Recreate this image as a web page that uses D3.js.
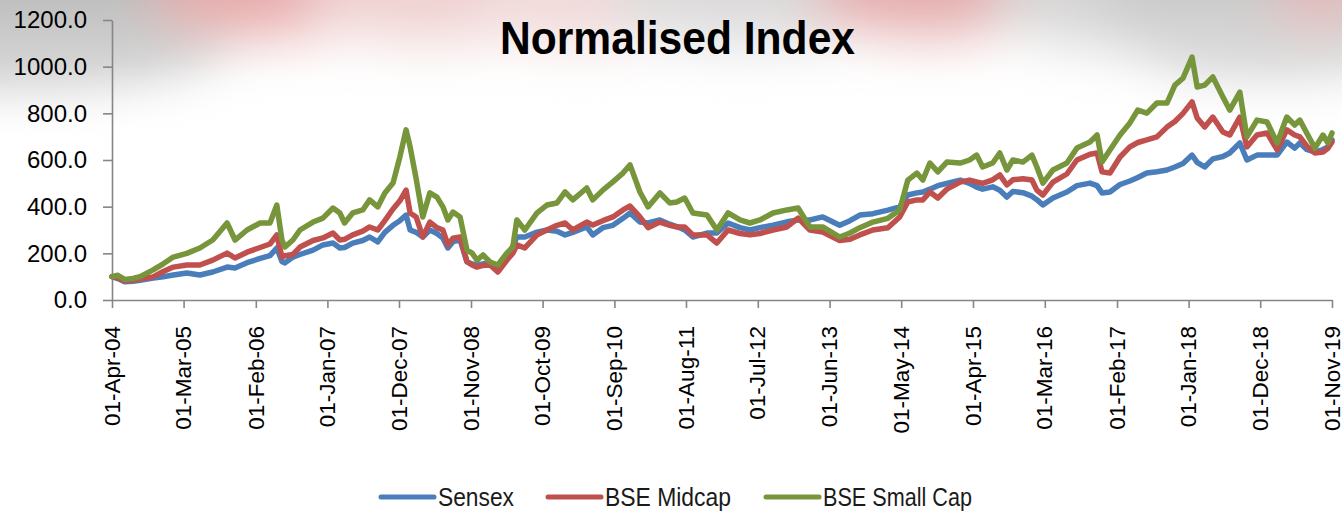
<!DOCTYPE html>
<html>
<head>
<meta charset="utf-8">
<script src="https://cdn.jsdelivr.net/npm/d3@7"></script>
<style>
  html, body { margin: 0; padding: 0; background: #fff; }
  svg { display: block; }
  .axis path, .axis line { stroke: #868686; stroke-width: 1.6px; }
  .y-axis text { font-family: "Liberation Sans", Arial, sans-serif; font-size: 24px; fill: #000; }
  .x-axis text { font-family: "Liberation Sans", Arial, sans-serif; font-size: 22.5px; fill: #000; }
  .title { font-family: "Liberation Sans", Arial, sans-serif; font-weight: bold; font-size: 46px; }
  .legend text { font-family: "Liberation Sans", Arial, sans-serif; font-size: 26px; fill: #1a1a1a; }
</style>
</head>
<body>
<svg width="1342" height="512"></svg>
<script>
// values (normalised, 01-Apr-04 = 100)
const dates = [
  "2004-04-01","2004-04-28","2004-05-30","2004-07-08","2004-08-10","2004-10-10","2004-11-26","2005-01-12",
  "2005-03-16","2005-05-16","2005-07-15","2005-09-20","2005-10-27","2005-12-22","2006-02-21","2006-04-08",
  "2006-05-10","2006-06-03","2006-06-17","2006-07-24","2006-08-26","2006-10-26","2006-12-11","2007-01-27",
  "2007-02-28","2007-03-22","2007-04-29","2007-06-15","2007-07-17","2007-08-24","2007-09-26","2007-11-03",
  "2007-12-05","2008-01-03","2008-01-22","2008-02-19","2008-03-21","2008-04-23","2008-05-26","2008-06-23",
  "2008-07-16","2008-08-09","2008-09-11","2008-10-13","2008-11-06","2008-11-29","2008-12-27","2009-01-29",
  "2009-03-06","2009-04-17","2009-05-15","2009-06-03","2009-07-10","2009-09-05","2009-10-21","2009-12-07",
  "2010-01-14","2010-02-19","2010-04-25","2010-05-23","2010-07-09","2010-08-25","2010-10-11","2010-11-13",
  "2010-12-29","2011-02-05","2011-04-01","2011-05-17","2011-06-19","2011-07-26","2011-09-02","2011-11-07",
  "2011-12-23","2012-02-13","2012-04-09","2012-05-25","2012-07-11","2012-09-10","2012-11-14","2013-01-05",
  "2013-03-01","2013-04-30","2013-07-18","2013-09-04","2013-10-20","2013-12-20","2014-02-28","2014-04-24",
  "2014-06-01","2014-07-13","2014-08-10","2014-09-12","2014-10-19","2014-11-30","2015-01-31","2015-03-16",
  "2015-04-18","2015-05-16","2015-07-02","2015-08-04","2015-09-06","2015-10-04","2015-11-20","2016-01-01",
  "2016-01-24","2016-02-21","2016-04-08","2016-06-12","2016-07-29","2016-09-28","2016-10-31","2016-11-23",
  "2016-12-30","2017-02-15","2017-04-02","2017-05-09","2017-06-20","2017-08-06","2017-09-22","2017-10-29",
  "2017-12-06","2018-01-17","2018-02-10","2018-03-17","2018-04-24","2018-06-10","2018-07-12","2018-08-28",
  "2018-09-30","2018-11-16","2019-01-02","2019-02-18","2019-04-04","2019-05-11","2019-06-04","2019-07-06",
  "2019-08-13","2019-09-20","2019-10-13","2019-11-01"
];

const sensex = [
  100, 92, 78, 80, 85, 94, 100, 107, 116, 107, 120, 141, 137, 160, 178, 190,
  223, 165, 159, 184, 195, 214, 236, 244, 223, 225, 244, 255, 270, 249, 290, 320,
  340, 364, 300, 290, 270, 300, 285, 265, 223, 250, 257, 163, 155, 150, 155, 159,
  141, 185, 230, 270, 270, 291, 300, 295, 279, 290, 313, 279, 310, 320, 350, 373,
  334, 330, 343, 325, 315, 300, 270, 287, 287, 330, 310, 300, 310, 321, 335, 343,
  343, 356, 320, 340, 364, 370, 385, 399, 450, 459, 463, 475, 490, 500, 514, 500,
  484, 475, 485, 470, 441, 465, 460, 445, 430, 407, 437, 463, 490, 501, 490, 459,
  463, 495, 510, 525, 544, 550, 557, 570, 585, 621, 590, 570, 605, 615, 630, 673,
  600, 621, 621, 621, 677, 651, 673, 645, 634, 645, 656, 686
];

const midcap = [
  100, 95, 82, 85, 90, 99, 122, 141, 150, 150, 171, 201, 180, 205, 225, 240,
  279, 184, 190, 195, 227, 255, 266, 287, 257, 260, 279, 295, 313, 300, 340, 390,
  425, 471, 373, 356, 270, 334, 310, 300, 236, 265, 270, 165, 150, 141, 148, 150,
  120, 170, 200, 236, 223, 279, 300, 320, 330, 300, 334, 321, 340, 356, 386, 403,
  356, 310, 334, 320, 313, 313, 279, 279, 244, 300, 285, 279, 285, 300, 313, 351,
  300, 291, 255, 260, 279, 300, 310, 356, 420, 429, 429, 463, 437, 475, 505, 514,
  506, 500, 515, 536, 493, 515, 520, 514, 471, 450, 505, 540, 600, 625, 630, 549,
  544, 613, 656, 675, 686, 699, 741, 765, 800, 849, 780, 741, 784, 720, 707, 784,
  656, 707, 716, 643, 729, 707, 699, 660, 630, 634, 650, 677
];

const smallcap = [
  100, 106, 88, 92, 100, 129, 155, 184, 200, 223, 257, 330, 257, 300, 330, 330,
  407, 257, 227, 257, 300, 334, 351, 394, 373, 330, 373, 386, 429, 399, 459, 501,
  613, 729, 656, 520, 356, 459, 441, 399, 343, 377, 356, 214, 201, 171, 193, 163,
  150, 201, 227, 343, 300, 373, 407, 416, 463, 429, 480, 429, 471, 506, 544, 579,
  463, 399, 459, 416, 420, 437, 373, 364, 300, 373, 343, 330, 343, 373, 386, 394,
  313, 313, 270, 287, 310, 334, 350, 386, 514, 544, 514, 587, 549, 591, 587, 600,
  621, 570, 587, 630, 557, 600, 591, 621, 570, 501, 557, 587, 651, 677, 707, 591,
  643, 707, 759, 814, 801, 844, 844, 921, 951, 1041, 913, 921, 956, 870, 814, 891,
  699, 771, 763, 673, 784, 750, 771, 716, 651, 707, 673, 716
];

const seriesNames = ["Sensex", "BSE Midcap", "BSE Small Cap"];
const seriesColors = ["#4a7ebb", "#c0504d", "#77953b"];
const xTickLabels = [
  "01-Apr-04","01-Mar-05","01-Feb-06","01-Jan-07","01-Dec-07","01-Nov-08","01-Oct-09","01-Sep-10","01-Aug-11",
  "01-Jul-12","01-Jun-13","01-May-14","01-Apr-15","01-Mar-16","01-Feb-17","01-Jan-18","01-Dec-18","01-Nov-19"
];
const yTicks = [0, 200, 400, 600, 800, 1000, 1200];

const svg = d3.select("svg");
const width = 1342;
const height = 512;
const margin = { top: 20, right: 10, bottom: 212, left: 112 };

const parseDate = d3.timeParse("%Y-%m-%d");
const parseTick = d3.timeParse("%d-%b-%y");
const fmtTick = d3.timeFormat("%d-%b-%y");

// faint photo-like background at the top
const defs = svg.append("defs");
defs.append("filter").attr("id", "blur").attr("x", "-50%").attr("y", "-50%")
  .attr("width", "200%").attr("height", "200%")
  .append("feGaussianBlur").attr("stdDeviation", 26);
const fade = defs.append("linearGradient").attr("id", "fade")
  .attr("x1", 0).attr("y1", 0).attr("x2", 0).attr("y2", 1);
fade.append("stop").attr("offset", "0%").attr("stop-color", "#fff").attr("stop-opacity", 0.2);
fade.append("stop").attr("offset", "25%").attr("stop-color", "#fff").attr("stop-opacity", 0.45);
fade.append("stop").attr("offset", "55%").attr("stop-color", "#fff").attr("stop-opacity", 1);
fade.append("stop").attr("offset", "100%").attr("stop-color", "#fff").attr("stop-opacity", 1);

svg.append("rect").attr("width", width).attr("height", height).attr("fill", "#fff");
const bg = svg.append("g").attr("filter", "url(#blur)");
const blobs = [
  { cx: 0, cy: 0, rx: 260, ry: 115, c: "#b0b0b0" },
  { cx: 270, cy: -5, rx: 120, ry: 50, c: "#e39a9a" },
  { cx: 430, cy: 0, rx: 130, ry: 50, c: "#ecc6c6" },
  { cx: 580, cy: 5, rx: 110, ry: 50, c: "#eed0d0" },
  { cx: 750, cy: 0, rx: 140, ry: 55, c: "#d4d2d2" },
  { cx: 930, cy: -5, rx: 120, ry: 50, c: "#e09c9c" },
  { cx: 1110, cy: 0, rx: 120, ry: 55, c: "#cdcbcb" },
  { cx: 1270, cy: 10, rx: 170, ry: 85, c: "#c0c0c0" },
  { cx: 1320, cy: 0, rx: 50, ry: 30, c: "#e0a8a8" }
];
bg.selectAll("ellipse").data(blobs).enter().append("ellipse")
  .attr("cx", d => d.cx).attr("cy", d => d.cy)
  .attr("rx", d => d.rx).attr("ry", d => d.ry)
  .attr("fill", d => d.c);
svg.append("rect").attr("width", width).attr("height", 250).attr("fill", "url(#fade)");

const x = d3.scaleTime()
  .domain([parseTick(xTickLabels[0]), parseTick(xTickLabels[xTickLabels.length - 1])])
  .range([margin.left, width - margin.right]);
const y = d3.scaleLinear()
  .domain([0, 1200])
  .range([height - margin.bottom, margin.top]);

// axes
svg.append("g")
  .attr("class", "axis y-axis")
  .attr("transform", `translate(${margin.left},0)`)
  .call(d3.axisLeft(y).tickValues(yTicks).tickFormat(d3.format(".1f")).tickSize(9).tickSizeOuter(0).tickPadding(16));

const xAxis = svg.append("g")
  .attr("class", "axis x-axis")
  .attr("transform", `translate(0,${height - margin.bottom})`)
  .call(d3.axisBottom(x).tickValues(xTickLabels.map(parseTick)).tickFormat(fmtTick).tickSize(8).tickSizeOuter(0));

xAxis.selectAll("text")
  .attr("transform", "rotate(-90)")
  .attr("text-anchor", "end")
  .attr("x", -26)
  .attr("y", 0)
  .attr("dy", "0.32em");

// series
const rows = dates.map((d, i) => ({ date: parseDate(d), v: [sensex[i], midcap[i], smallcap[i]] }));
const line = k => d3.line().x(d => x(d.date)).y(d => y(d.v[k]));

svg.append("g").selectAll("path")
  .data(seriesNames)
  .enter()
  .append("path")
  .attr("d", (d, k) => line(k)(rows))
  .attr("fill", "none")
  .attr("stroke", (d, k) => seriesColors[k])
  .attr("stroke-width", 5.5)
  .attr("stroke-linejoin", "round")
  .attr("stroke-linecap", "round");

// title (condensed face, squeezed to the reference width)
svg.append("text")
  .attr("class", "title")
  .attr("x", 500)
  .attr("y", 54)
  .attr("textLength", 355)
  .attr("lengthAdjust", "spacingAndGlyphs")
  .text("Normalised Index");

// legend
const legendX = [380, 547, 765];
const legendTextW = [76, 126, 149];
const legend = svg.append("g").attr("class", "legend");
const item = legend.selectAll("g")
  .data(seriesNames)
  .enter()
  .append("g")
  .attr("transform", (d, i) => `translate(${legendX[i]},497)`);
item.append("line")
  .attr("x1", 1).attr("x2", 54)
  .attr("stroke", (d, i) => seriesColors[i])
  .attr("stroke-width", 5)
  .attr("stroke-linecap", "round");
item.append("text")
  .attr("x", 58)
  .attr("dy", "0.36em")
  .attr("textLength", (d, i) => legendTextW[i])
  .attr("lengthAdjust", "spacingAndGlyphs")
  .text(d => d);
</script>
</body>
</html>
